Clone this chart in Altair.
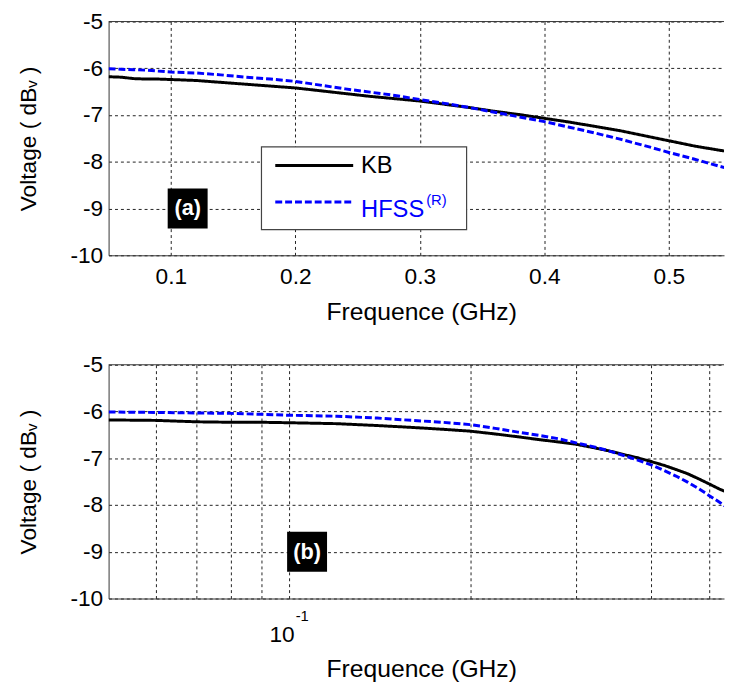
import altair as alt
import pandas as pd

# ---- data ----
freq = [0.05, 0.06, 0.07, 0.08, 0.09, 0.10, 0.12, 0.14, 0.16, 0.18, 0.20, 0.22, 0.24, 0.26,
        0.28, 0.30, 0.32, 0.34, 0.36, 0.38, 0.40, 0.42, 0.44, 0.46, 0.48, 0.50, 0.52, 0.54, 0.55]
kb = [-6.18, -6.19, -6.22, -6.23, -6.23, -6.24, -6.26, -6.30, -6.34, -6.38, -6.42, -6.48, -6.54, -6.60,
      -6.65, -6.70, -6.77, -6.84, -6.92, -6.99, -7.07, -7.15, -7.24, -7.33, -7.44, -7.55, -7.66, -7.75, -7.79]
hfss = [-6.01, -6.02, -6.03, -6.04, -6.06, -6.08, -6.10, -6.14, -6.19, -6.23, -6.28, -6.36, -6.44, -6.51,
        -6.58, -6.67, -6.75, -6.84, -6.94, -7.04, -7.14, -7.26, -7.38, -7.51, -7.65, -7.80, -7.94, -8.09, -8.16]
series = ["KB", "HFSS"]
colors = ["#000000", "#0000ff"]
dashes = [[1, 0], [7, 3]]
y_ticks = [-10, -9, -8, -7, -6, -5]
lin_ticks = [0.1, 0.2, 0.3, 0.4, 0.5]
log_ticks = [0.06, 0.07, 0.08, 0.09, 0.1, 0.2, 0.3, 0.4, 0.5]
x_title = "Frequence (GHz)"
y_title = "Voltage ( dBᵥ )"

n = len(freq)
df = pd.DataFrame({"f": freq * 2, "v": kb + hfss, "s": ["KB"] * n + ["HFSS"] * n})

W, H = 624, 237
FONT = "Liberation Sans"
GRID = dict(grid=True, gridDash=[3, 3], gridColor="#222222", gridWidth=1, gridOpacity=1)

y_enc = alt.Y("v:Q", scale=alt.Scale(domain=[-10, -5], nice=False, zero=False),
              axis=alt.Axis(values=y_ticks, labelExpr="'' + datum.value", title=y_title,
                            tickSize=0, labelPadding=6, titlePadding=30, labelFontSize=23,
                            titleFontSize=23, titleFontWeight="normal", domainColor="#333333",
                            **GRID))


def panel(x_enc, tag_df, extra):
    base = alt.Chart(df)
    lines = base.mark_line(strokeWidth=3, clip=True).encode(
        x=x_enc, y=y_enc,
        color=alt.Color("s:N", scale=alt.Scale(domain=series, range=colors), legend=None),
        strokeDash=alt.StrokeDash("s:N", scale=alt.Scale(domain=series, range=dashes), legend=None),
        order=alt.Order("f:Q"),
    )
    top_rule = alt.Chart(pd.DataFrame({"v": [-5]})).mark_rule(color="#333333", strokeWidth=1).encode(y=y_enc)
    tag_box = alt.Chart(tag_df).mark_square(size=1640, color="black", opacity=1).encode(x=x_enc, y=y_enc)
    tag_txt = alt.Chart(tag_df).mark_text(color="white", fontWeight="bold", fontSize=22,
                                          font=FONT, baseline="middle").encode(x=x_enc, y=y_enc, text="t:N")
    return alt.layer(lines, top_rule, tag_box, tag_txt, *extra).properties(width=W, height=H)


# ---- panel (a): linear ----
x_lin = alt.X("f:Q", scale=alt.Scale(domain=[0.05, 0.5443], nice=False, zero=False),
              axis=alt.Axis(values=lin_ticks, format=".1f", title=x_title, tickSize=0,
                            labelPadding=11, titlePadding=11, labelFontSize=23, titleFontSize=25,
                            titleX=317, titleFontWeight="normal", domainColor="#333333", **GRID))

one = pd.DataFrame({"k": [0]})
leg_box = alt.Chart(one).mark_rect(fill="white", stroke="#444444", strokeWidth=1.2).encode(
    x=alt.value(155), x2=alt.value(363), y=alt.value(127), y2=alt.value(211))
leg_kb_line = alt.Chart(one).mark_rule(color=colors[0], strokeWidth=3).encode(
    x=alt.value(169), x2=alt.value(248), y=alt.value(146))
leg_hf_line = alt.Chart(one).mark_rule(color=colors[1], strokeWidth=3, strokeDash=dashes[1]).encode(
    x=alt.value(169), x2=alt.value(248), y=alt.value(183))
leg_kb_txt = alt.Chart(one).mark_text(align="left", baseline="middle", fontSize=24, font=FONT,
                                      color=colors[0]).encode(
    x=alt.value(256), y=alt.value(147), text=alt.value("KB"))
leg_hf_txt = alt.Chart(one).mark_text(align="left", baseline="middle", fontSize=24, font=FONT,
                                      color=colors[1]).encode(
    x=alt.value(256), y=alt.value(191), text=alt.value("HFSS"))
leg_r_txt = alt.Chart(one).mark_text(align="left", baseline="middle", fontSize=15, font=FONT,
                                     color=colors[1]).encode(
    x=alt.value(322), y=alt.value(181), text=alt.value("(R)"))

tag_a = pd.DataFrame({"f": [0.1135], "v": [-9.0], "t": ["(a)"]})
top = panel(x_lin, tag_a, [leg_box, leg_kb_line, leg_hf_line, leg_kb_txt, leg_hf_txt, leg_r_txt])

# ---- panel (b): logarithmic ----
x_log = alt.X("f:Q", scale=alt.Scale(type="log", domain=[0.05, 0.529], nice=False),
              axis=alt.Axis(values=log_ticks, labelExpr="datum.value == 0.1 ? '10' : ''",
                            title=x_title, tickSize=0, labelPadding=26, labelOffset=-8,
                            titlePadding=10, labelFontSize=23, titleFontSize=25, titleX=317,
                            titleFontWeight="normal", domainColor="#333333", **GRID))
exp_df = pd.DataFrame({"f": [0.1], "t": ["-1"]})
exp_txt = alt.Chart(exp_df).mark_text(fontSize=15, font=FONT, dx=13, baseline="middle",
                                      color="black").encode(
    x=x_log, y=alt.value(H + 18), text="t:N")
tag_b = pd.DataFrame({"f": [0.107], "v": [-9.0], "t": ["(b)"]})
bottom = panel(x_log, tag_b, [exp_txt])

chart = alt.vconcat(top, bottom, spacing=28).properties(
    padding={"left": 9, "top": -3, "right": 0, "bottom": 2}
).configure_view(stroke="transparent").configure_axis(
    labelFont=FONT, titleFont=FONT, labelColor="black", titleColor="black"
).configure_text(font=FONT)

chart.save("out.html", embed_options={"renderer": "svg", "actions": False})
